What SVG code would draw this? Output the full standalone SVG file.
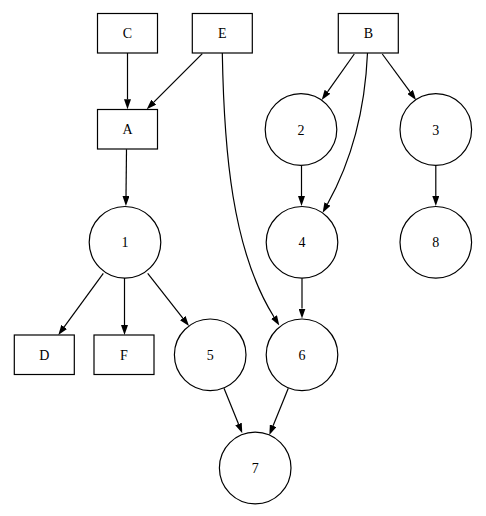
<svg xmlns="http://www.w3.org/2000/svg" width="486" height="516" viewBox="0 0 486 516">
<style>
.n rect,.n circle{fill:#fff;stroke:#000;stroke-width:1.2}
.n text{font-family:"Liberation Serif","Times New Roman",serif;font-size:14px;text-anchor:middle;fill:#000}
.e path{fill:none;stroke:#000;stroke-width:1.2;marker-end:url(#ah)}
</style>
<defs>
<marker id="ah" viewBox="0 0 10 7" refX="0" refY="3.5" markerWidth="10" markerHeight="7" markerUnits="userSpaceOnUse" orient="auto">
<path d="M0,0 L10,3.5 L0,7 z" fill="#000"/>
</marker>
</defs>
<g class="e" id="edges">
<path d="M127.5,53 L127.5,99.3"/>
<path d="M202.3,53.7 L153.8,102.2"/>
<path d="M222.3,53 C224,150 232,250 274,317"/>
<path d="M354.3,54 L327.5,91.8"/>
<path d="M382.3,54 L410.1,91.9"/>
<path d="M367.5,53 C365,110 352,160 327.5,204"/>
<path d="M126.5,149.3 L126,196"/>
<path d="M301.5,165.5 L301.5,196"/>
<path d="M435.8,165.5 L435.8,196"/>
<path d="M103.3,273.3 L64.2,326.9"/>
<path d="M124.5,278 L124.5,325"/>
<path d="M147.7,273.3 L182.8,318.1"/>
<path d="M302,278.3 L302,308.5"/>
<path d="M224,388.3 L238.5,424"/>
<path d="M288.3,388.3 L273.1,425.7"/>
</g>
<g class="n" id="C"><rect x="97.5" y="13.5" width="60" height="39.5"/><text x="127.5" y="38">C</text></g>
<g class="n" id="E"><rect x="192.3" y="13.5" width="60" height="39.5"/><text x="222.3" y="38">E</text></g>
<g class="n" id="B"><rect x="338.3" y="13.5" width="60" height="39.5"/><text x="368.3" y="38">B</text></g>
<g class="n" id="A"><rect x="97.5" y="109.5" width="60" height="39.5"/><text x="127.5" y="134">A</text></g>
<g class="n" id="n2"><circle cx="301" cy="129.5" r="35.8"/><text x="301" y="134.5">2</text></g>
<g class="n" id="n3"><circle cx="435.8" cy="129.5" r="35.8"/><text x="435.8" y="134.5">3</text></g>
<g class="n" id="n1"><circle cx="125" cy="242.3" r="35.8"/><text x="125" y="247.3">1</text></g>
<g class="n" id="n4"><circle cx="302" cy="242.3" r="35.8"/><text x="302" y="247.3">4</text></g>
<g class="n" id="n8"><circle cx="435.8" cy="242.3" r="35.8"/><text x="435.8" y="247.3">8</text></g>
<g class="n" id="D"><rect x="14.3" y="335" width="60" height="39.5"/><text x="44.3" y="359.5">D</text></g>
<g class="n" id="F"><rect x="94" y="335" width="60" height="39.5"/><text x="124" y="359.5">F</text></g>
<g class="n" id="n5"><circle cx="210.2" cy="354.8" r="35.8"/><text x="210.2" y="359.8">5</text></g>
<g class="n" id="n6"><circle cx="302" cy="354.8" r="35.8"/><text x="302" y="359.8">6</text></g>
<g class="n" id="n7"><circle cx="255.2" cy="468" r="35.8"/><text x="255.2" y="473">7</text></g>
</svg>
